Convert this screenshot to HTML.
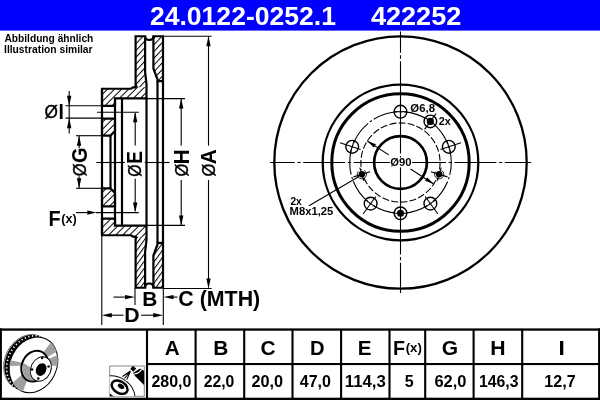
<!DOCTYPE html>
<html>
<head>
<meta charset="utf-8">
<title>24.0122-0252.1 422252</title>
<style>
html,body{margin:0;padding:0;background:#fff;}
body{width:600px;height:400px;overflow:hidden;position:relative;font-family:"Liberation Sans",sans-serif;}
svg{position:absolute;left:0;top:0;display:block;will-change:transform;}
text{font-family:"Liberation Sans",sans-serif;font-weight:bold;fill:#000;}
.r{font-weight:normal;}
</style>
</head>
<body>
<svg width="600" height="400" viewBox="0 0 600 400">
<defs>
<pattern id="h45" width="4.95" height="4.95" patternUnits="userSpaceOnUse" patternTransform="rotate(-45)">
<rect x="0" y="0" width="4.95" height="1" fill="#000"/>
</pattern>
<pattern id="h47" width="4.6" height="4.6" patternUnits="userSpaceOnUse" patternTransform="rotate(-47)">
<rect x="0" y="0" width="4.6" height="1" fill="#000"/>
</pattern>
<pattern id="h55" width="4.15" height="4.15" patternUnits="userSpaceOnUse" patternTransform="rotate(-54)">
<rect x="0" y="0" width="4.15" height="1" fill="#000"/>
</pattern>
</defs>

<!-- HEADER -->
<rect x="0" y="0" width="600" height="30.6" fill="#0000fe"/>
<g id="hdrtxt">
<text style="fill:#fff" transform="translate(149.897,24.700) scale(0.26566,0.26600)" font-size="100">24.0122-0252.1</text>
<text style="fill:#fff" transform="translate(370.893,24.700) scale(0.27109,0.26600)" font-size="100">422252</text>
</g><!--/hdrtxt-->

<!-- NOTE -->
<g id="notetxt">
<text transform="translate(4.455,41.700) scale(0.10203,0.10200)" font-size="100">Abbildung ähnlich</text>
<text transform="translate(4.021,53.300) scale(0.10289,0.10200)" font-size="100">Illustration similar</text>
</g><!--/notetxt-->

<!-- SECTION -->
<g id="section">
<polygon points="102,88.75 131,88.75 133,87.3 135.6,87.3 146.5,87.3 146.5,98.3 115,98.3 115,105.8 102,105.8" fill="url(#h45)" stroke="none"/>
<polygon points="135.6,87.3 135.6,36.25 145.1,36.25 145.1,72 146.5,84 146.5,87.3" fill="url(#h47)" stroke="none"/>
<polygon points="102,88.75 131,88.75 133,87.3 135.6,87.3 135.6,36.25 145.1,36.25 145.1,72 146.5,84 146.5,98.3 115,98.3 115,105.8 102,105.8" fill="none" stroke="#000" stroke-width="2.2" stroke-linejoin="miter"/>
<polygon points="102,118.6 115,118.6 115,131 110.5,135.6 102,135.6" fill="url(#h45)" stroke="#000" stroke-width="2.2" stroke-linejoin="miter"/>
<polygon points="153.4,36.25 163.0,36.25 163.0,81.2 157.5,81.2 157.5,79.5 153.4,68.5" fill="url(#h47)" stroke="#000" stroke-width="2.2" stroke-linejoin="miter"/>
<polygon points="102,206.3 115,206.3 115,193.0 110.5,188.4 102,188.4" fill="url(#h45)" stroke="#000" stroke-width="2.2" stroke-linejoin="miter"/>
<polygon points="102,235.25 131,235.25 133,236.7 135.6,236.7 146.5,236.7 146.5,225.7 115,225.7 115,218.7 102,218.7" fill="url(#h45)" stroke="none"/>
<polygon points="135.6,236.7 135.6,287.75 145.1,287.75 145.1,252.0 146.5,240.0 146.5,236.7" fill="url(#h55)" stroke="none"/>
<polygon points="102,235.25 131,235.25 133,236.7 135.6,236.7 135.6,287.75 145.1,287.75 145.1,252.0 146.5,240.0 146.5,225.7 115,225.7 115,218.7 102,218.7" fill="none" stroke="#000" stroke-width="2.2" stroke-linejoin="miter"/>
<polygon points="153.4,287.75 163.0,287.75 163.0,242.8 157.5,242.8 157.5,244.5 153.4,255.5" fill="url(#h55)" stroke="#000" stroke-width="2.2" stroke-linejoin="miter"/>
<path d="M145.1,36.25 Q145.1,39.9 149.25,39.9 Q153.4,39.9 153.4,36.25" fill="none" stroke="#000" stroke-width="2.2"/>
<path d="M145.1,287.75 Q145.1,283.5 149.25,283.5 Q153.4,283.5 153.4,287.75" fill="none" stroke="#000" stroke-width="2.2"/>
<polygon points="135.6,83.6 138.4,87.3 135.6,87.3" fill="#000"/>
<polygon points="135.6,240.4 138.4,236.7 135.6,236.7" fill="#000"/>
<line x1="102" y1="88.75" x2="102" y2="235.25" stroke="#000" stroke-width="2.2" />
<line x1="115" y1="98.3" x2="115" y2="225.7" stroke="#000" stroke-width="2.2" />
<line x1="122" y1="98.3" x2="122" y2="225.7" stroke="#000" stroke-width="2.2" />
<line x1="146.5" y1="98.3" x2="146.5" y2="225.7" stroke="#000" stroke-width="2.2" />
<line x1="157.5" y1="81.2" x2="157.5" y2="242.8" stroke="#000" stroke-width="2.2" />
<line x1="163.0" y1="81.2" x2="163.0" y2="242.8" stroke="#000" stroke-width="2.2" />
<line x1="110.5" y1="135.6" x2="110.5" y2="188.4" stroke="#000" stroke-width="2.2" />
<line x1="96.3" y1="162.5" x2="124.8" y2="162.5" stroke="#000" stroke-width="1.1" />
<line x1="144.7" y1="162.5" x2="169.6" y2="162.5" stroke="#000" stroke-width="1.1" />
<line x1="97" y1="112.2" x2="138.8" y2="112.2" stroke="#000" stroke-width="1.1" />
<line x1="96" y1="212.6" x2="138.8" y2="212.6" stroke="#000" stroke-width="1.1" />
<line x1="65.5" y1="105.8" x2="102" y2="105.8" stroke="#000" stroke-width="1.1" />
<line x1="65.5" y1="118.1" x2="102" y2="118.1" stroke="#000" stroke-width="1.1" />
<line x1="69.2" y1="91" x2="69.2" y2="133.6" stroke="#000" stroke-width="1.1" />
<polygon points="69.2,105.7 67.0,95.7 71.4,95.7" fill="#000" stroke="none"/>
<polygon points="69.2,118.2 67.0,128.2 71.4,128.2" fill="#000" stroke="none"/>
<line x1="76" y1="135.7" x2="102" y2="135.7" stroke="#000" stroke-width="1.1" />
<line x1="76" y1="188.3" x2="102" y2="188.3" stroke="#000" stroke-width="1.1" />
<line x1="79.1" y1="136" x2="79.1" y2="147.9" stroke="#000" stroke-width="1.1" />
<line x1="79.1" y1="176.2" x2="79.1" y2="188.0" stroke="#000" stroke-width="1.1" />
<polygon points="79.1,135.7 76.89999999999999,145.7 81.3,145.7" fill="#000" stroke="none"/>
<polygon points="79.1,188.3 76.89999999999999,178.3 81.3,178.3" fill="#000" stroke="none"/>
<line x1="135.2" y1="113" x2="135.2" y2="145.6" stroke="#000" stroke-width="1.1" />
<line x1="135.2" y1="178.8" x2="135.2" y2="211" stroke="#000" stroke-width="1.1" />
<polygon points="135.2,112.2 133.0,122.2 137.39999999999998,122.2" fill="#000" stroke="none"/>
<polygon points="135.2,212.4 133.0,202.4 137.39999999999998,202.4" fill="#000" stroke="none"/>
<line x1="146.5" y1="98.6" x2="185" y2="98.6" stroke="#000" stroke-width="1.1" />
<line x1="146.5" y1="225.4" x2="185" y2="225.4" stroke="#000" stroke-width="1.1" />
<line x1="181.2" y1="99" x2="181.2" y2="145.6" stroke="#000" stroke-width="1.1" />
<line x1="181.2" y1="180" x2="181.2" y2="225.0" stroke="#000" stroke-width="1.1" />
<polygon points="181.2,98.5 179.0,108.5 183.39999999999998,108.5" fill="#000" stroke="none"/>
<polygon points="181.2,225.5 179.0,215.5 183.39999999999998,215.5" fill="#000" stroke="none"/>
<line x1="163" y1="36.2" x2="211.6" y2="36.2" stroke="#000" stroke-width="1.1" />
<line x1="163" y1="288.5" x2="211.6" y2="288.5" stroke="#000" stroke-width="1.1" />
<line x1="208.5" y1="37" x2="208.5" y2="145.6" stroke="#000" stroke-width="1.1" />
<line x1="208.5" y1="180" x2="208.5" y2="287.5" stroke="#000" stroke-width="1.1" />
<polygon points="208.5,36.2 206.3,46.2 210.7,46.2" fill="#000" stroke="none"/>
<polygon points="208.5,288.5 206.3,278.5 210.7,278.5" fill="#000" stroke="none"/>
<line x1="76" y1="212.6" x2="90" y2="212.6" stroke="#000" stroke-width="1.1" />
<polygon points="96.6,212.6 87.3,210.54999999999998 87.3,214.65" fill="#000" stroke="none"/>
<line x1="113.5" y1="297.1" x2="128" y2="297.1" stroke="#000" stroke-width="1.1" />
<polygon points="135,297.1 125,294.90000000000003 125,299.3" fill="#000" stroke="none"/>
<line x1="170" y1="297.1" x2="177.5" y2="297.1" stroke="#000" stroke-width="1.1" />
<polygon points="163.5,297.1 173.5,294.90000000000003 173.5,299.3" fill="#000" stroke="none"/>
<line x1="108" y1="315.2" x2="123.5" y2="315.2" stroke="#000" stroke-width="1.1" />
<polygon points="101.8,315.2 111.8,313.0 111.8,317.4" fill="#000" stroke="none"/>
<line x1="141.2" y1="315.2" x2="156" y2="315.2" stroke="#000" stroke-width="1.1" />
<polygon points="163.2,315.2 153.2,313.0 153.2,317.4" fill="#000" stroke="none"/>
<line x1="101.8" y1="235.25" x2="101.8" y2="325" stroke="#000" stroke-width="1.1" />
<line x1="163.3" y1="288.0" x2="163.3" y2="325" stroke="#000" stroke-width="1.1" />
<line x1="135" y1="288.0" x2="135" y2="305" stroke="#000" stroke-width="1.1" />
<text class="r" stroke="#000" stroke-width="2.2" transform="translate(44.388,118.025) scale(0.17277,0.17514)" font-size="100">Ø</text>
<text transform="translate(58.426,118.800) scale(0.19310,0.21221)" font-size="100">I</text>
<text transform="translate(86.681,163.120) rotate(-90) scale(0.20000,0.21893)" font-size="100">G</text>
<text class="r" stroke="#000" stroke-width="2.2" transform="translate(85.609,176.171) rotate(-90) scale(0.16398,0.19068)" font-size="100">Ø</text>
<text transform="translate(142.400,163.757) rotate(-90) scale(0.19039,0.21657)" font-size="100">E</text>
<text class="r" stroke="#000" stroke-width="2.2" transform="translate(141.212,176.736) rotate(-90) scale(0.15666,0.18785)" font-size="100">Ø</text>
<text transform="translate(188.800,164.489) rotate(-90) scale(0.21053,0.21512)" font-size="100">H</text>
<text class="r" stroke="#000" stroke-width="2.2" transform="translate(187.916,176.578) rotate(-90) scale(0.16545,0.18362)" font-size="100">Ø</text>
<text transform="translate(215.800,164.296) rotate(-90) scale(0.20685,0.21802)" font-size="100">A</text>
<text class="r" stroke="#000" stroke-width="2.2" transform="translate(214.919,176.578) rotate(-90) scale(0.16545,0.18079)" font-size="100">Ø</text>
<text transform="translate(48.390,225.800) scale(0.19843,0.21221)" font-size="100">F</text>
<text transform="translate(61.181,223.125) scale(0.12633,0.12862)" font-size="100">(x)</text>
<text transform="translate(142.317,305.700) scale(0.20949,0.20640)" font-size="100">B</text>
<text transform="translate(124.294,321.800) scale(0.21301,0.19622)" font-size="100">D</text>
<text transform="translate(178.323,305.586) scale(0.21379,0.21222)" font-size="100">C (MTH)</text>
</g><!--/section-->

<!-- FRONT -->
<g id="front">
<circle cx="400.5" cy="162.5" r="126.2" fill="none" stroke="#000" stroke-width="2.3" />
<circle cx="400.5" cy="162.5" r="77.8" fill="none" stroke="#000" stroke-width="2.3" />
<circle cx="400.5" cy="162.5" r="68.7" fill="none" stroke="#000" stroke-width="3.0" />
<circle cx="400.5" cy="162.5" r="26.4" fill="none" stroke="#000" stroke-width="2.7" />
<circle cx="400.5" cy="162.5" r="50.8" fill="none" stroke="#000" stroke-width="1.1" stroke-dasharray="25 2.3 2.3 2.32" stroke-dashoffset="12.5"/>
<circle cx="400.5" cy="162.5" r="39.6" fill="none" stroke="#000" stroke-width="1.1" stroke-dasharray="7 2.215"/>
<line x1="270.1" y1="162.5" x2="531.2" y2="162.5" stroke="#000" stroke-width="1.1" stroke-dasharray="42 2.5 3.4 2.5" stroke-dashoffset="17.3"/>
<line x1="400.5" y1="31.5" x2="400.5" y2="293" stroke="#000" stroke-width="1.1" stroke-dasharray="42 2.5 3.4 2.5" stroke-dashoffset="20.7"/>
<circle cx="400.5" cy="111.7" r="6.4" fill="none" stroke="#000" stroke-width="1.4" />
<line x1="400.5" y1="98.9" x2="400.5" y2="120.5" stroke="#000" stroke-width="1.1" />
<line x1="394.1" y1="111.7" x2="406.9" y2="111.7" stroke="#000" stroke-width="1.1" />
<circle cx="448.81" cy="146.8" r="6.4" fill="none" stroke="#000" stroke-width="1.4" />
<line x1="460.99" y1="142.85" x2="440.44" y2="149.52" stroke="#000" stroke-width="1.1" />
<line x1="446.84" y1="140.72" x2="450.79" y2="152.89" stroke="#000" stroke-width="1.1" />
<circle cx="430.36" cy="203.6" r="6.4" fill="none" stroke="#000" stroke-width="1.4" />
<line x1="437.88" y1="213.95" x2="425.19" y2="196.48" stroke="#000" stroke-width="1.1" />
<line x1="435.54" y1="199.84" x2="425.18" y2="207.36" stroke="#000" stroke-width="1.1" />
<circle cx="370.64" cy="203.6" r="6.4" fill="none" stroke="#000" stroke-width="1.4" />
<line x1="363.12" y1="213.95" x2="375.81" y2="196.48" stroke="#000" stroke-width="1.1" />
<line x1="375.82" y1="207.36" x2="365.46" y2="199.84" stroke="#000" stroke-width="1.1" />
<circle cx="352.19" cy="146.8" r="6.4" fill="none" stroke="#000" stroke-width="1.4" />
<line x1="340.01" y1="142.85" x2="360.56" y2="149.52" stroke="#000" stroke-width="1.1" />
<line x1="350.21" y1="152.89" x2="354.16" y2="140.72" stroke="#000" stroke-width="1.1" />
<circle cx="430.36" cy="121.4" r="6.3" fill="#fff" stroke="#000" stroke-width="1.4" />
<line x1="424.6" y1="129.33" x2="436.12" y2="113.47" stroke="#000" stroke-width="1.1" />
<line x1="424.7" y1="117.29" x2="436.02" y2="125.52" stroke="#000" stroke-width="1.1" />
<circle cx="430.36" cy="121.4" r="3.55" fill="#000" stroke="#000" stroke-width="0" />
<circle cx="400.5" cy="213.3" r="6.3" fill="#fff" stroke="#000" stroke-width="1.4" />
<line x1="400.5" y1="203.5" x2="400.5" y2="223.1" stroke="#000" stroke-width="1.1" />
<line x1="407.5" y1="213.3" x2="393.5" y2="213.3" stroke="#000" stroke-width="1.1" />
<circle cx="400.5" cy="213.3" r="3.55" fill="#000" stroke="#000" stroke-width="0" />
<circle cx="439.13" cy="174.31" r="4.6" fill="#fff" stroke="#000" stroke-width="0.8" stroke-dasharray="21.7 7.2" transform="rotate(-60 439.13 174.31)"/>
<line x1="430.81" y1="171.77" x2="447.45" y2="176.86" stroke="#000" stroke-width="1.1" />
<line x1="441.18" y1="167.62" x2="437.09" y2="181.01" stroke="#000" stroke-width="1.1" />
<circle cx="439.13" cy="174.31" r="3.2" fill="#000" stroke="#000" stroke-width="0" />
<circle cx="361.87" cy="174.31" r="4.6" fill="#fff" stroke="#000" stroke-width="0.8" stroke-dasharray="21.7 7.2" transform="rotate(-60 361.87 174.31)"/>
<line x1="370.19" y1="171.77" x2="353.55" y2="176.86" stroke="#000" stroke-width="1.1" />
<line x1="363.91" y1="181.01" x2="359.82" y2="167.62" stroke="#000" stroke-width="1.1" />
<circle cx="361.87" cy="174.31" r="3.2" fill="#000" stroke="#000" stroke-width="0" />
<line x1="367.29" y1="140.93" x2="388.76" y2="154.88" stroke="#000" stroke-width="1.1" />
<line x1="410.56" y1="169.04" x2="433.71" y2="184.07" stroke="#000" stroke-width="1.1" />
<polygon points="367.29,140.93 375.93,144.16 373.75,147.51" fill="#000"/>
<polygon points="433.71,184.07 425.07,180.84 427.25,177.49" fill="#000"/>
<rect x="389.8" y="157.5" width="22.2" height="9.9" fill="#fff"/>
<text transform="translate(390.340,166.028) scale(0.11222,0.10331)" font-size="100">Ø90</text>
<text transform="translate(410.333,111.700) scale(0.11397,0.10900)" font-size="100">Ø6,8</text>
<text transform="translate(438.832,125.000) scale(0.10831,0.10900)" font-size="100">2x</text>
<text transform="translate(290.454,205.000) scale(0.10177,0.10900)" font-size="100">2x</text>
<text transform="translate(289.558,214.700) scale(0.11243,0.10900)" font-size="100">M8x1,25</text>
<line x1="309" y1="205.8" x2="359" y2="176.5" stroke="#000" stroke-width="1.1" />
</g><!--/front-->

<!-- TABLE -->
<g id="table" fill="#000" stroke="none">
<rect x="0" y="328.4" width="600" height="2.3"/>
<rect x="0" y="397.7" width="600" height="2.3"/>
<rect x="0" y="328.4" width="1.9" height="71.6"/>
<rect x="598.1" y="328.4" width="1.9" height="71.6"/>
<rect x="146" y="363" width="454" height="2.1"/>
<rect x="145.95" y="329" width="2.1" height="70"/>
<rect x="194.55" y="329" width="2.1" height="70"/>
<rect x="243.15" y="329" width="2.1" height="70"/>
<rect x="291.45" y="329" width="2.1" height="70"/>
<rect x="340.05" y="329" width="2.1" height="70"/>
<rect x="388.45" y="329" width="2.1" height="70"/>
<rect x="424.15" y="329" width="2.1" height="70"/>
<rect x="472.55" y="329" width="2.1" height="70"/>
<rect x="521.15" y="329" width="2.1" height="70"/>
</g>
<g id="tabtxt">
<text transform="translate(164.804,354.800) scale(0.20685,0.20500)" font-size="100">A</text>
<text transform="translate(213.317,354.800) scale(0.20949,0.20500)" font-size="100">B</text>
<text transform="translate(260.441,354.800) scale(0.20948,0.20500)" font-size="100">C</text>
<text transform="translate(309.969,354.800) scale(0.20163,0.20500)" font-size="100">D</text>
<text transform="translate(357.838,354.800) scale(0.20641,0.20500)" font-size="100">E</text>
<text transform="translate(392.903,354.800) scale(0.19646,0.20500)" font-size="100">F</text>
<text transform="translate(441.637,354.800) scale(0.21037,0.20500)" font-size="100">G</text>
<text transform="translate(490.299,354.800) scale(0.21222,0.20500)" font-size="100">H</text>
<text transform="translate(558.498,354.800) scale(0.22759,0.20500)" font-size="100">I</text>
<text transform="translate(405.650,352.214) scale(0.13256,0.12433)" font-size="100">(x)</text>
<text transform="translate(151.457,387.350) scale(0.15980,0.16000)" font-size="100">280,0</text>
<text transform="translate(203.664,387.350) scale(0.15759,0.16000)" font-size="100">22,0</text>
<text transform="translate(251.446,387.350) scale(0.16293,0.16000)" font-size="100">20,0</text>
<text transform="translate(299.760,387.350) scale(0.16023,0.16000)" font-size="100">47,0</text>
<text transform="translate(344.758,387.350) scale(0.16809,0.16000)" font-size="100">114,3</text>
<text transform="translate(404.819,387.350) scale(0.16032,0.16000)" font-size="100">5</text>
<text transform="translate(434.407,387.350) scale(0.16471,0.16000)" font-size="100">62,0</text>
<text transform="translate(479.020,387.350) scale(0.15800,0.16000)" font-size="100">146,3</text>
<text transform="translate(544.300,387.350) scale(0.16133,0.16000)" font-size="100">12,7</text>
</g><!--/tabtxt-->

<!-- ICONS -->
<g id="icon-disc">
<g transform="translate(33.5,364.9) rotate(25)">
<ellipse cx="-5.4" cy="0" rx="23.2" ry="28.7" fill="#000"/>
<ellipse cx="-6.2" cy="0" rx="23.2" ry="28.7" fill="none" stroke="#000" stroke-width="0.5"/>
<ellipse cx="-2.9" cy="0" rx="23.2" ry="28.8" fill="none" stroke="#fff" stroke-width="1.6" stroke-dasharray="1.3 2.4"/>
<clipPath id="faceclip"><ellipse cx="0" cy="0" rx="23.2" ry="28.8"/></clipPath>
<ellipse cx="0" cy="0" rx="23.2" ry="28.8" fill="#fff" stroke="#000" stroke-width="1.0"/>
<g clip-path="url(#faceclip)" fill="#a0a0a0">
<polygon points="1.7,-7.7 4.2,-5.9 23.7,-33.4 9.7,-43.3"/>
<polygon points="4.8,-5.1 6.0,-2.5 33.6,-13.9 27.1,-28.9"/>
<polygon points="-5.8,3.1 -6.2,1.5 -34.7,8.6 -32.6,17.6"/>
<polygon points="0.4,8.0 -3.1,6.9 -17.7,39.0 2.5,44.9"/>
</g>
<ellipse cx="1.6" cy="0.6" rx="12.8" ry="15.9" fill="#fff" stroke="#000" stroke-width="2.0"/>
<path d="M-10,2.6 A12.8,15.9 0 0 0 3.2,15.6 L7.2,13 A10,12.8 0 0 1 -0.8,3.6 Z" fill="#a0a0a0"/>
<ellipse cx="8.4" cy="0.6" rx="10" ry="12.7" fill="#fff" stroke="#000" stroke-width="0.9"/>
<ellipse cx="8.9" cy="1.0" rx="5.1" ry="6.6" fill="#000"/>
</g>
<circle cx="42.2" cy="358.1" r="1.25" fill="#000"/>
<circle cx="48.5" cy="366.6" r="1.25" fill="#000"/>
<circle cx="32.0" cy="369.5" r="1.25" fill="#000"/>
<circle cx="38.3" cy="378.5" r="1.25" fill="#000"/>
</g><!--/icon-disc-->
<g id="icon-spray">
<clipPath id="spclip"><rect x="109.7" y="366" width="34.6" height="30.3"/></clipPath>
<rect x="109.7" y="366" width="34.6" height="30.3" fill="#fff" stroke="#8a8a8a" stroke-width="1"/>
<g clip-path="url(#spclip)">
<ellipse cx="115" cy="394" rx="21" ry="17" transform="rotate(32 115 394)" fill="#fff" stroke="#000" stroke-width="0.9"/>
<ellipse cx="119.6" cy="387.2" rx="8.6" ry="5.8" transform="rotate(32 119.6 387.2)" fill="#fff" stroke="#000" stroke-width="2.4"/>
<ellipse cx="121" cy="386.3" rx="3.5" ry="2.2" transform="rotate(32 121 386.3)" fill="#000"/>
<polygon points="109.5,393.3 109.5,397 114.6,397" fill="#000"/>
<polygon points="133,373 140,368.5 144.5,371 144.5,385.5 135,376" fill="#000"/>
<path d="M134,374 Q139,374 141.5,369.6" fill="none" stroke="#fff" stroke-width="1.1"/>
<rect x="131.1" y="366.7" width="4.2" height="4.2" transform="rotate(40 133.2 368.8)" fill="#000"/>
<path d="M130.5,371 L122.5,376.5 M130.5,371 L124.5,378.5 M130.5,371 L126.8,379.6" stroke="#000" stroke-width="1.1" fill="none"/>
</g>
</g><!--/icon-spray-->
</svg>
</body>
</html>
